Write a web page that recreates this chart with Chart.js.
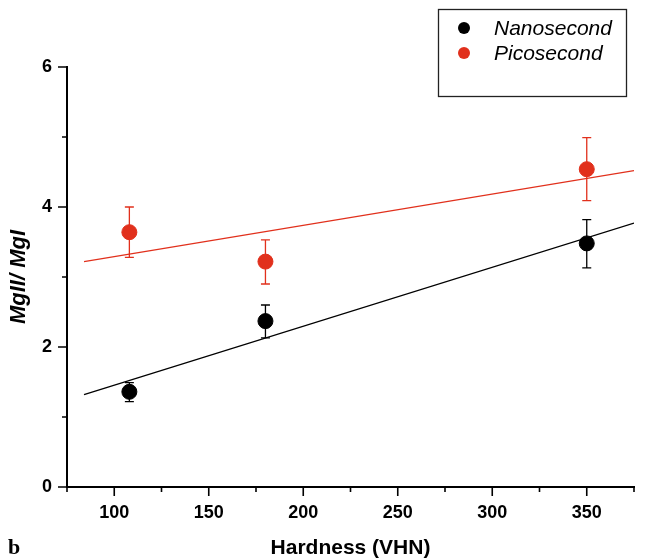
<!DOCTYPE html>
<html>
<head>
<meta charset="utf-8">
<script src="https://cdn.jsdelivr.net/npm/chart.js@4"></script>
<style>
  html, body { margin: 0; padding: 0; background: #fff; }
  #wrap { width: 646px; height: 559px; }
</style>
</head>
<body>
<div id="wrap"><canvas id="chart" width="646" height="559"></canvas></div>
<script>
/*** data ***/
const hardness = [108, 180, 350];

const nanoLabel = 'Nanosecond';
const nanoRatio = [1.36, 2.37, 3.48];
const nanoLow = [1.22, 2.13, 3.13];
const nanoHigh = [1.49, 2.6, 3.82];

const picoLabel = 'Picosecond';
const picoRatio = [3.64, 3.22, 4.54];
const picoLow = [3.28, 2.9, 4.09];
const picoHigh = [4.0, 3.53, 4.99];

// linear fit lines, end points
const fitX = [84, 375];
const nanoFit = [1.32, 3.77];
const picoFit = [3.22, 4.52];

const xMajorTicks = [100, 150, 200, 250, 300, 350];
const yMajorTicks = [0, 2, 4, 6];

const black = '#000000';
const red = '#e1301c';

const toPoints = (xs, ys) => xs.map((x, i) => ({ x: x, y: ys[i] }));

/*** plugins ***/
// error bars with caps, drawn through the scales
const errorBars = {
  id: 'errorBars',
  beforeDatasetsDraw(chart) {
    const { ctx, scales } = chart;
    const sets = [
      { low: nanoLow, high: nanoHigh, color: black },
      { low: picoLow, high: picoHigh, color: red },
    ];
    ctx.save();
    ctx.lineWidth = 1.3;
    sets.forEach((s) => {
      ctx.strokeStyle = s.color;
      hardness.forEach((h, i) => {
        const x = scales.x.getPixelForValue(h);
        const y1 = scales.y.getPixelForValue(s.low[i]);
        const y2 = scales.y.getPixelForValue(s.high[i]);
        ctx.beginPath();
        ctx.moveTo(x, y1);
        ctx.lineTo(x, y2);
        ctx.moveTo(x - 4.5, y1);
        ctx.lineTo(x + 4.5, y1);
        ctx.moveTo(x - 4.5, y2);
        ctx.lineTo(x + 4.5, y2);
        ctx.stroke();
      });
    });
    ctx.restore();
  },
};

// outward tick marks, long on labelled ticks and short on the others
const tickMarks = {
  id: 'tickMarks',
  afterDraw(chart) {
    const { ctx, scales } = chart;
    const xs = scales.x;
    const ys = scales.y;
    ctx.save();
    ctx.strokeStyle = black;
    ctx.lineWidth = 1.6;
    ctx.beginPath();
    xs.ticks.forEach((t) => {
      const px = xs.getPixelForValue(t.value);
      const len = xMajorTicks.includes(t.value) ? 9 : 5;
      ctx.moveTo(px, xs.top);
      ctx.lineTo(px, xs.top + len);
    });
    ys.ticks.forEach((t) => {
      const py = ys.getPixelForValue(t.value);
      const len = yMajorTicks.includes(t.value) ? 9 : 5;
      ctx.moveTo(ys.right, py);
      ctx.lineTo(ys.right - len, py);
    });
    ctx.stroke();
    ctx.restore();
  },
};

// boxed legend at top right and the panel letter
const boxLegend = {
  id: 'boxLegend',
  afterDraw(chart) {
    const ctx = chart.ctx;
    ctx.save();
    ctx.strokeStyle = '#222';
    ctx.lineWidth = 1.3;
    ctx.strokeRect(438.5, 9.5, 188, 87);

    const items = [
      { label: nanoLabel, color: black, y: 28 },
      { label: picoLabel, color: red, y: 53 },
    ];
    ctx.font = 'italic 21px "Liberation Sans", Arial, sans-serif';
    ctx.textBaseline = 'middle';
    items.forEach((it) => {
      ctx.fillStyle = it.color;
      ctx.beginPath();
      ctx.arc(464, it.y, 6, 0, Math.PI * 2);
      ctx.fill();
      ctx.fillStyle = black;
      ctx.fillText(it.label, 494, it.y + 1);
    });

    ctx.font = 'bold 22px "Liberation Serif", "Times New Roman", serif';
    ctx.textBaseline = 'alphabetic';
    ctx.fillText('b', 8, 554);
    ctx.restore();
  },
};

/*** chart ***/
const tickFont = { family: '"Liberation Sans", Arial, sans-serif', size: 18, weight: 'bold' };

new Chart(document.getElementById('chart'), {
  type: 'scatter',
  data: {
    datasets: [
      {
        label: nanoLabel,
        data: toPoints(hardness, nanoRatio),
        backgroundColor: black,
        borderColor: black,
        pointRadius: 7.5,
        pointHoverRadius: 7.5,
      },
      {
        label: picoLabel,
        data: toPoints(hardness, picoRatio),
        backgroundColor: red,
        borderColor: red,
        pointRadius: 7.5,
        pointHoverRadius: 7.5,
      },
      {
        type: 'line',
        label: 'nano fit',
        data: toPoints(fitX, nanoFit),
        borderColor: black,
        borderWidth: 1.2,
        pointRadius: 0,
        fill: false,
      },
      {
        type: 'line',
        label: 'pico fit',
        data: toPoints(fitX, picoFit),
        borderColor: red,
        borderWidth: 1.2,
        pointRadius: 0,
        fill: false,
      },
    ],
  },
  options: {
    responsive: false,
    animation: false,
    layout: {
      padding: { left: 0, right: 12, top: 67, bottom: 0 },
    },
    plugins: {
      legend: { display: false },
      tooltip: { enabled: false },
    },
    scales: {
      x: {
        type: 'linear',
        min: 75,
        max: 375,
        grid: { display: false, drawTicks: false },
        border: { display: true, color: black, width: 2 },
        ticks: {
          stepSize: 25,
          padding: 15,
          color: black,
          font: tickFont,
          maxRotation: 0,
          autoSkip: false,
          callback: (value) => (xMajorTicks.includes(value) ? value : ''),
        },
        title: {
          display: true,
          text: 'Hardness (VHN)',
          color: black,
          padding: { top: 0, bottom: -2 },
          font: { family: '"Liberation Sans", Arial, sans-serif', size: 21, weight: 'bold' },
        },
        afterFit: (scale) => {
          scale.height = 72;
          // no extra room for the end labels, the layout padding handles it
          scale.paddingLeft = 0;
          scale.paddingRight = 0;
        },
      },
      y: {
        min: 0,
        max: 6,
        grid: { display: false, drawTicks: false },
        border: { display: true, color: black, width: 2 },
        ticks: {
          stepSize: 1,
          padding: 15,
          color: black,
          font: tickFont,
          autoSkip: false,
          callback: (value) => (yMajorTicks.includes(value) ? value : ''),
        },
        title: {
          display: true,
          text: 'MgII/ MgI',
          color: black,
          padding: { top: 6, bottom: 0 },
          font: { family: '"Liberation Sans", Arial, sans-serif', size: 22, weight: 'bold', style: 'italic' },
        },
        afterFit: (scale) => {
          scale.width = 67;
          scale.paddingTop = 0;
          scale.paddingBottom = 0;
        },
      },
    },
  },
  plugins: [errorBars, tickMarks, boxLegend],
});
</script>
</body>
</html>
